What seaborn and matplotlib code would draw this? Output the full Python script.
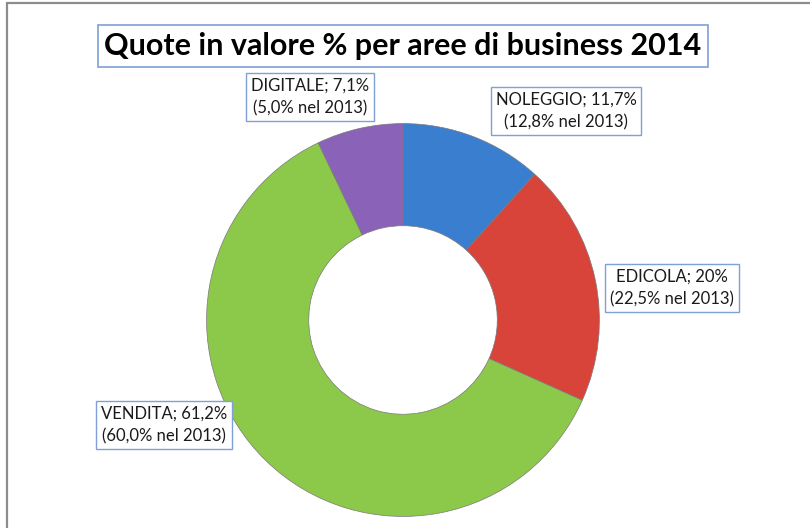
"""Doughnut chart: quote in valore % per aree di business 2014."""
import matplotlib
matplotlib.use("Agg")
import matplotlib.pyplot as plt
import seaborn as sns
from matplotlib.patches import Rectangle

AREAS = ["NOLEGGIO", "EDICOLA", "VENDITA", "DIGITALE"]
SHARE_2014 = [11.7, 20.0, 61.2, 7.1]
SHARE_2014_TXT = ["11,7%", "20%", "61,2%", "7,1%"]
SHARE_2013_TXT = ["12,8%", "22,5%", "60,0%", "5,0%"]
COLORS = ["#3a7fcf", "#d9443a", "#8cc84a", "#8a62b8"]
TITLE = "Quote in valore % per aree di business 2014"

# label box centres in figure fractions
LABEL_POS = [(566 / 810, 1 - 111 / 528), (672 / 810, 1 - 288 / 528),
             (164 / 810, 1 - 425 / 528), (310 / 810, 1 - 97 / 528)]

sns.set_theme(style="white")
plt.rcParams["font.family"] = ["Lato", "DejaVu Sans"]

fig = plt.figure(figsize=(8.1, 5.28), dpi=100)
fig.patch.set_facecolor("white")

# chart area border (top and left edges visible)
fig.add_artist(Rectangle((7 / 810, -0.05), 1.0, 1 - 3 / 528 + 0.05, transform=fig.transFigure,
                         fill=False, edgecolor="#8c8c8c", linewidth=1.6))

ax = fig.add_axes([(403 - 220) / 810, (528 - 320 - 220) / 528, 440 / 810, 440 / 528])
palette = sns.color_palette(COLORS)
wedges, _ = ax.pie(SHARE_2014, colors=palette, startangle=90, counterclock=False,
                   radius=1.0, wedgeprops=dict(width=0.52, edgecolor="#7a7a7a", linewidth=0.5))
ax.set_xlim(-1.12, 1.12)
ax.set_ylim(-1.12, 1.12)
ax.set_aspect("equal")
ax.axis("off")

fig.text(403 / 810, 1 - 46 / 528, TITLE, ha="center", va="center", fontsize=22, fontweight="bold",
         color="black",
         bbox=dict(boxstyle="square,pad=0.22", facecolor="white", edgecolor="#7f9fd6", linewidth=1.2))

for area, cur, prev, (x, y) in zip(AREAS, SHARE_2014_TXT, SHARE_2013_TXT, LABEL_POS):
    fig.text(x, y, f"{area}; {cur}\n({prev} nel 2013)", ha="center", va="center", fontsize=12,
             color="#1a1a1a", linespacing=1.5,
             bbox=dict(boxstyle="square,pad=0.3", facecolor="white", edgecolor="#7f9fd6", linewidth=1.0))

fig.savefig("out.png", dpi=100)
